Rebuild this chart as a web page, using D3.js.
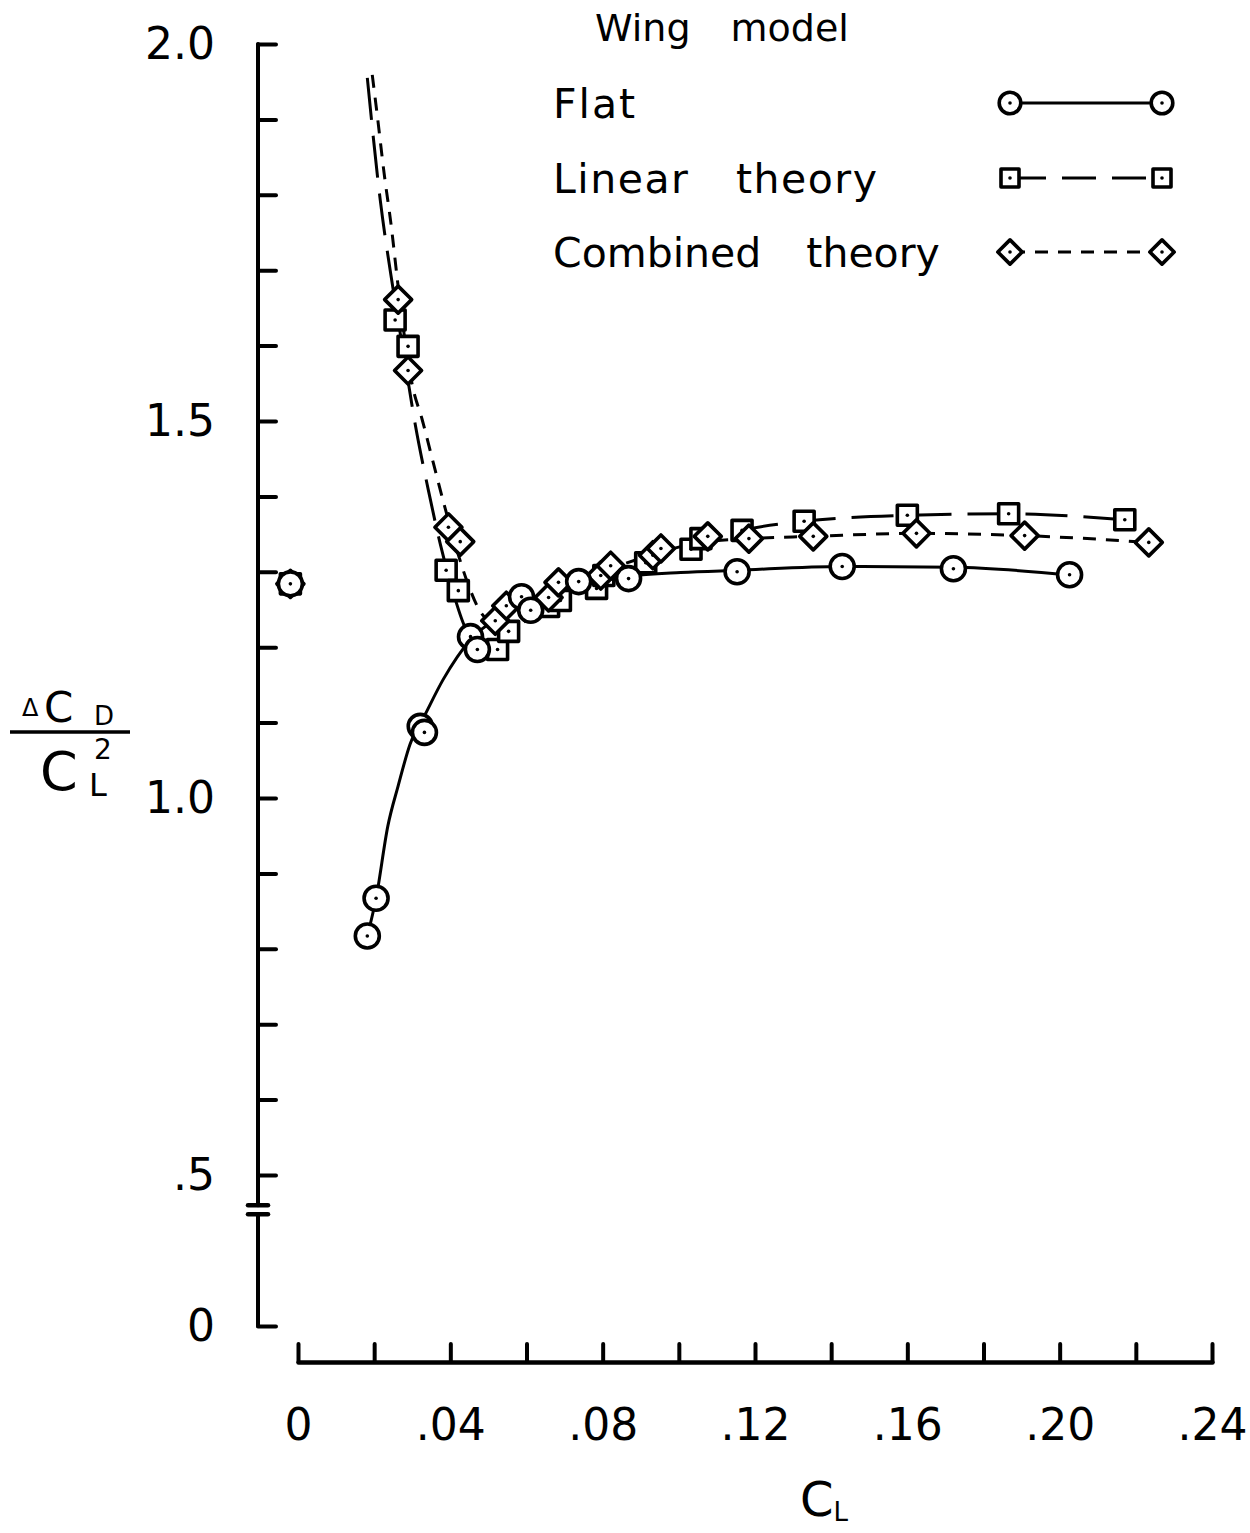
<!DOCTYPE html>
<html><head><meta charset="utf-8">
<script src="https://cdn.jsdelivr.net/npm/d3@7"></script>
<style>
html,body{margin:0;padding:0;background:#fff;}
svg{display:block;font-family:"DejaVu Sans",sans-serif;}
</style></head><body>
<svg id="chart" width="1250" height="1533"></svg>
<script>
// ---------------- data (CL, dCD/CL^2) ----------------
const seriesNames = ["Flat", "Linear theory", "Combined theory"];
const legendTitle = "Wing model";

const flatPoints = [
  [-0.002, 1.284], [0.0182, 0.817], [0.0205, 0.867], [0.0321, 1.095], [0.0332, 1.087],
  [0.0453, 1.214], [0.0471, 1.197], [0.0587, 1.267], [0.0611, 1.249], [0.0737, 1.287],
  [0.0868, 1.291], [0.1153, 1.300], [0.1429, 1.307], [0.1721, 1.304], [0.2026, 1.296]
];
const linearPoints = [
  [-0.002, 1.284], [0.0255, 1.634], [0.0289, 1.599], [0.0389, 1.302], [0.0421, 1.275],
  [0.0524, 1.197], [0.0553, 1.221], [0.0658, 1.254], [0.0689, 1.262], [0.0784, 1.278],
  [0.0803, 1.295], [0.0913, 1.312], [0.1032, 1.330], [0.1058, 1.344], [0.1166, 1.355],
  [0.1329, 1.367], [0.1600, 1.375], [0.1866, 1.377], [0.2171, 1.369]
];
const combinedPoints = [
  [-0.002, 1.284], [0.0263, 1.661], [0.0289, 1.567], [0.0395, 1.359], [0.0426, 1.340],
  [0.0518, 1.235], [0.0547, 1.255], [0.0658, 1.266], [0.0684, 1.286], [0.0795, 1.295],
  [0.0821, 1.308], [0.0932, 1.322], [0.0953, 1.331], [0.1076, 1.347], [0.1184, 1.344],
  [0.1353, 1.347], [0.1624, 1.351], [0.1908, 1.348], [0.2234, 1.339]
];

// faired curves drawn through the data
const flatCurve = [
  [0.0182, 0.817], [0.0205, 0.867], [0.0236, 0.963], [0.0263, 1.016], [0.0294, 1.071],
  [0.0334, 1.111], [0.0381, 1.157], [0.0453, 1.210], [0.0532, 1.241], [0.0611, 1.259],
  [0.0742, 1.283], [0.0868, 1.294], [0.1005, 1.299], [0.1153, 1.302], [0.1429, 1.307],
  [0.1721, 1.306], [0.2026, 1.296]
];
const linearCurve = [
  [0.0182, 1.955], [0.0216, 1.793], [0.0250, 1.674], [0.0282, 1.575], [0.0308, 1.495],
  [0.0342, 1.409], [0.0374, 1.336], [0.0405, 1.277], [0.0439, 1.226], [0.0484, 1.201],
  [0.0524, 1.200], [0.0571, 1.224], [0.0663, 1.257], [0.0795, 1.286], [0.0926, 1.312],
  [0.1058, 1.339], [0.1166, 1.355], [0.1329, 1.367], [0.1600, 1.375], [0.1866, 1.377],
  [0.2171, 1.369]
];
const combinedCurve = [
  [0.0195, 1.959], [0.0208, 1.906], [0.0226, 1.829], [0.0245, 1.758], [0.0261, 1.687],
  [0.0279, 1.614], [0.0300, 1.548], [0.0326, 1.502], [0.0355, 1.445], [0.0387, 1.383],
  [0.0413, 1.336], [0.0447, 1.283], [0.0479, 1.247], [0.0511, 1.234], [0.0545, 1.247],
  [0.0663, 1.277], [0.0795, 1.300], [0.0926, 1.322], [0.1058, 1.339], [0.1184, 1.344],
  [0.1353, 1.347], [0.1624, 1.351], [0.1908, 1.348], [0.2234, 1.339]
];

// axis ticks
const xTickValues = [0, 0.02, 0.04, 0.06, 0.08, 0.10, 0.12, 0.14, 0.16, 0.18, 0.20, 0.22, 0.24];
const xLabelValues = [0, 0.04, 0.08, 0.12, 0.16, 0.20, 0.24];
const xLabelText = ["0", ".04", ".08", ".12", ".16", ".20", ".24"];
const yTickValues = [0, 0.5, 0.6, 0.7, 0.8, 0.9, 1.0, 1.1, 1.2, 1.3, 1.4, 1.5, 1.6, 1.7, 1.8, 1.9, 2.0];
const yLabelValues = [0, 0.5, 1.0, 1.5, 2.0];
const yLabelText = ["0", ".5", "1.0", "1.5", "2.0"];

// ---------------- drawing ----------------
const svg = d3.select("#chart");
const x = d3.scaleLinear().domain([0, 0.24]).range([298, 1212]);
const y = d3.scaleLinear().domain([0, 0.5, 2.0]).range([1326, 1175, 44]);
const AX = 258;       // y-axis position
const XAXIS_Y = 1362; // x-axis position
const INK = "#000";

// y axis (broken)
const yAxisG = svg.append("g").attr("transform", `translate(${AX},0)`);
yAxisG.call(d3.axisLeft(y).tickValues(yTickValues).tickSize(-18).tickPadding(43)
  .tickFormat(d => { const i = yLabelValues.findIndex(v => Math.abs(v - d) < 1e-9); return i >= 0 ? yLabelText[i] : ""; }));
yAxisG.select(".domain").remove();
yAxisG.selectAll(".tick line").attr("stroke", INK).attr("stroke-width", 4).attr("stroke-linecap", "round");
yAxisG.selectAll(".tick text").attr("font-size", 44).attr("fill", INK).attr("font-family", "DejaVu Sans, sans-serif");
const breakLo = 0.37, breakHi = 0.40;
[[breakHi, 2.0], [0, breakLo]].forEach(([a, b]) => {
  svg.append("line").attr("x1", AX).attr("x2", AX).attr("y1", y(a)).attr("y2", y(b))
    .attr("stroke", INK).attr("stroke-width", 4).attr("stroke-linecap", "round");
});
[breakHi, breakLo].forEach(v => {
  svg.append("line").attr("x1", AX - 10).attr("x2", AX + 10).attr("y1", y(v)).attr("y2", y(v))
    .attr("stroke", INK).attr("stroke-width", 4.5).attr("stroke-linecap", "round");
});

// x axis
const xAxisG = svg.append("g").attr("transform", `translate(0,${XAXIS_Y})`);
xAxisG.call(d3.axisBottom(x).tickValues(xTickValues).tickSize(-18).tickSizeOuter(0).tickPadding(47)
  .tickFormat(d => { const i = xLabelValues.findIndex(v => Math.abs(v - d) < 1e-9); return i >= 0 ? xLabelText[i] : ""; }));
xAxisG.select(".domain").attr("stroke", INK).attr("stroke-width", 4.5).attr("stroke-linecap", "round");
xAxisG.selectAll(".tick line").attr("stroke", INK).attr("stroke-width", 4).attr("stroke-linecap", "round");
xAxisG.selectAll(".tick text").attr("font-size", 44).attr("fill", INK).attr("font-family", "DejaVu Sans, sans-serif");

// axis titles
const xt = svg.append("text").attr("x", 800).attr("y", 1516).attr("font-size", 48).attr("fill", INK);
xt.append("tspan").text("C");
xt.append("tspan").attr("font-size", 26).attr("dy", 5).text("L");

// y title as fraction
svg.append("text").attr("x", 22).attr("y", 716).attr("font-size", 24).attr("fill", INK).text("\u0394");
svg.append("text").attr("x", 44).attr("y", 722).attr("font-size", 42).attr("fill", INK).text("C");
svg.append("text").attr("x", 94).attr("y", 725).attr("font-size", 26).attr("fill", INK).text("D");
svg.append("line").attr("x1", 10).attr("x2", 130).attr("y1", 732).attr("y2", 732)
  .attr("stroke", INK).attr("stroke-width", 3.5);
svg.append("text").attr("x", 40).attr("y", 790).attr("font-size", 54).attr("fill", INK).text("C");
svg.append("text").attr("x", 94).attr("y", 759).attr("font-size", 28).attr("fill", INK).text("2");
svg.append("text").attr("x", 89).attr("y", 796).attr("font-size", 32).attr("fill", INK).text("L");

// curves
const line = d3.line().x(d => x(d[0])).y(d => y(d[1])).curve(d3.curveMonotoneX);
svg.append("path").datum(linearCurve).attr("d", line).attr("fill", "none")
  .attr("stroke", INK).attr("stroke-width", 3).attr("stroke-dasharray", "42,16");
svg.append("path").datum(combinedCurve).attr("d", line).attr("fill", "none")
  .attr("stroke", INK).attr("stroke-width", 3).attr("stroke-dasharray", "13,10");
svg.append("path").datum(flatCurve).attr("d", line).attr("fill", "none")
  .attr("stroke", INK).attr("stroke-width", 3);

// marker helper
function drawMarker(g, type, cx, cy, s) {
  const k = s || 1;
  if (type === "circle") {
    g.append("circle").attr("cx", cx).attr("cy", cy).attr("r", 12 * k)
      .attr("fill", "#fff").attr("stroke", INK).attr("stroke-width", 3.6);
  } else if (type === "square") {
    g.append("path").attr("d", d3.symbol(d3.symbolSquare, 400 * k * k)())
      .attr("transform", `translate(${cx},${cy})`)
      .attr("fill", "#fff").attr("stroke", INK).attr("stroke-width", 3.6).attr("stroke-linejoin", "round");
  } else {
    g.append("path").attr("d", d3.symbol(d3.symbolSquare, 365 * k * k)())
      .attr("transform", `translate(${cx},${cy}) rotate(45)`)
      .attr("fill", "#fff").attr("stroke", INK).attr("stroke-width", 3.6).attr("stroke-linejoin", "round");
  }
  g.append("circle").attr("cx", cx).attr("cy", cy).attr("r", 1.8).attr("fill", INK);
}

const mk = svg.append("g");
linearPoints.forEach(d => drawMarker(mk, "square", x(d[0]), y(d[1])));
combinedPoints.forEach(d => drawMarker(mk, "diamond", x(d[0]), y(d[1])));
flatPoints.forEach(d => drawMarker(mk, "circle", x(d[0]), y(d[1])));

// legend
const lg = svg.append("g").attr("fill", INK);
lg.append("text").attr("x", 595).attr("y", 41).attr("font-size", 38).attr("word-spacing", 28).text(legendTitle);
const legendRows = [
  { name: seriesNames[0], type: "circle", dash: null, ty: 118, my: 103, ls: 2 },
  { name: seriesNames[1], type: "square", dash: "34,16", ty: 193, my: 178, ls: 1.5 },
  { name: seriesNames[2], type: "diamond", dash: "13,10", ty: 267, my: 252, ls: 0 }
];
legendRows.forEach(r => {
  lg.append("text").attr("x", 553).attr("y", r.ty).attr("font-size", 41)
    .attr("letter-spacing", r.ls).attr("word-spacing", 32).text(r.name);
  lg.append("line").attr("x1", 1012).attr("x2", 1160).attr("y1", r.my).attr("y2", r.my)
    .attr("stroke", INK).attr("stroke-width", 3).attr("stroke-dasharray", r.dash);
  drawMarker(lg, r.type, 1010, r.my, 0.9);
  drawMarker(lg, r.type, 1162, r.my, 0.9);
});
</script>
</body></html>
